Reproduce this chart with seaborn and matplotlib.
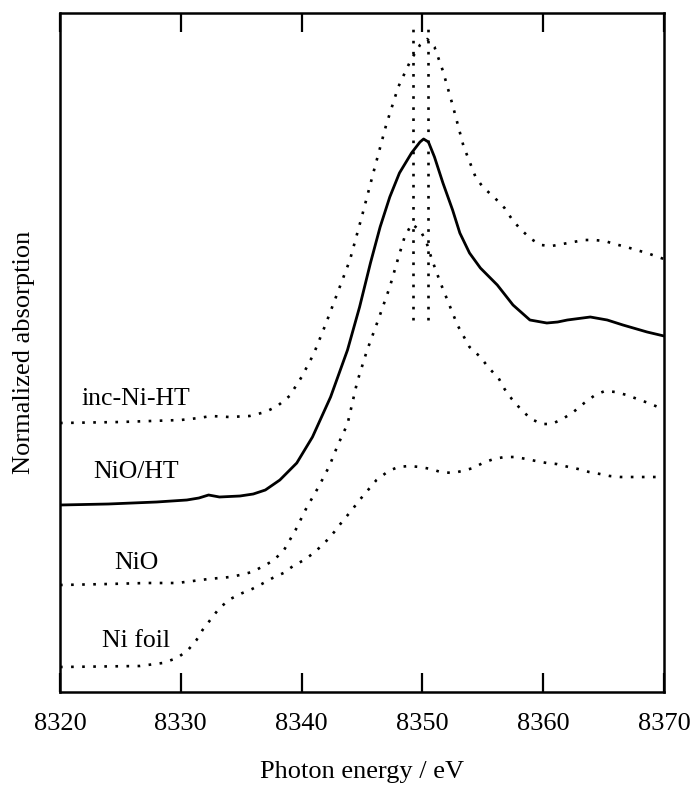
import matplotlib
matplotlib.use("Agg")
import matplotlib.pyplot as plt
import seaborn as sns
import pandas as pd

# Ni K-edge XANES spectra (offset for clarity)
energy_inc = [8320, 8325, 8330, 8331.5, 8332.5, 8334, 8335.7, 8337.0, 8338.0, 8339.0,
              8340.0, 8341.0, 8342.0, 8343.0, 8344.0, 8345.0, 8346.0, 8347.0, 8348.0, 8349.0,
              8349.8, 8350.4, 8351.0, 8351.7, 8352.5, 8353.4, 8354.4, 8355.0, 8356.0, 8356.8,
              8357.4, 8358.1, 8359.0, 8359.8, 8360.7, 8361.6, 8362.5, 8363.4, 8364.2, 8365.1,
              8365.9, 8366.9, 8367.7, 8368.6, 8369.5, 8370]
abs_inc = [2.69, 2.70, 2.72, 2.74, 2.76, 2.75, 2.76, 2.80, 2.86, 2.96,
           3.15, 3.38, 3.68, 4.00, 4.32, 4.76, 5.22, 5.67, 6.05, 6.31,
           6.47, 6.53, 6.45, 6.21, 5.87, 5.46, 5.15, 5.05, 4.94, 4.84,
           4.73, 4.63, 4.53, 4.47, 4.46, 4.48, 4.50, 4.52, 4.52, 4.51,
           4.48, 4.45, 4.42, 4.39, 4.35, 4.33]

energy_nioht = [8320, 8324, 8328, 8330.5, 8331.5, 8332.3, 8333.2, 8334.9, 8336.0, 8337.0,
                8338.2, 8339.6, 8340.9, 8342.4, 8343.8, 8344.8, 8345.7, 8346.5, 8347.3, 8348.1,
                8349.1, 8349.8, 8350.1, 8350.5, 8351.0, 8351.7, 8352.5, 8353.1, 8353.9, 8354.8,
                8356.2, 8357.5, 8358.9, 8360.3, 8361.2, 8362.0, 8363.9, 8365.3, 8366.6, 8368.6,
                8370]
abs_nioht = [1.87, 1.88, 1.90, 1.92, 1.94, 1.97, 1.95, 1.96, 1.98, 2.02,
             2.12, 2.29, 2.55, 2.95, 3.42, 3.85, 4.29, 4.65, 4.95, 5.19,
             5.39, 5.50, 5.53, 5.50, 5.35, 5.09, 4.82, 4.59, 4.39, 4.24,
             4.07, 3.87, 3.72, 3.69, 3.70, 3.72, 3.75, 3.72, 3.67, 3.60,
             3.56]

energy_nio = [8320, 8324, 8327.2, 8329.7, 8332.3, 8334.1, 8334.9, 8335.9, 8336.7, 8337.6,
              8338.5, 8339.5, 8340.4, 8341.4, 8342.3, 8343.0, 8343.8, 8344.6, 8345.4, 8346.4,
              8347.3, 8348.0, 8348.5, 8349.1, 8349.8, 8350.3, 8350.8, 8351.5, 8352.2, 8352.9,
              8353.4, 8353.9, 8354.8, 8355.5, 8356.3, 8356.8, 8357.4, 8358.2, 8359.0, 8359.9,
              8360.7, 8361.6, 8362.5, 8363.4, 8364.3, 8365.1, 8366.0, 8366.9, 8367.8, 8368.7,
              8369.5, 8370]
abs_nio = [1.07, 1.08, 1.09, 1.09, 1.13, 1.15, 1.17, 1.20, 1.25, 1.31,
           1.41, 1.62, 1.84, 2.05, 2.26, 2.47, 2.68, 3.10, 3.41, 3.74,
           4.05, 4.34, 4.54, 4.68, 4.62, 4.51, 4.32, 4.09, 3.88, 3.67,
           3.56, 3.45, 3.35, 3.24, 3.14, 3.03, 2.93, 2.82, 2.73, 2.68,
           2.68, 2.73, 2.80, 2.89, 2.97, 3.01, 3.00, 2.97, 2.93, 2.89,
           2.85, 2.83]

energy_foil = [8320, 8326.6, 8328.5, 8329.7, 8330.6, 8331.3, 8331.8, 8332.5, 8333.2, 8334.1,
               8335.1, 8335.9, 8336.7, 8337.6, 8338.5, 8339.3, 8340.2, 8341.0, 8341.9, 8342.7,
               8343.4, 8344.1, 8344.8, 8345.5, 8346.2, 8347.2, 8348.0, 8348.9, 8349.8, 8350.7,
               8351.5, 8352.5, 8353.3, 8354.2, 8355.0, 8355.9, 8356.8, 8357.7, 8358.6, 8359.4,
               8360.3, 8361.1, 8362.1, 8362.9, 8363.8, 8364.7, 8365.5, 8366.4, 8367.4, 8368.2,
               8369.1, 8370]
abs_foil = [0.25, 0.26, 0.29, 0.34, 0.42, 0.52, 0.62, 0.73, 0.84, 0.93,
            0.99, 1.03, 1.08, 1.14, 1.19, 1.26, 1.32, 1.39, 1.49, 1.60,
            1.71, 1.81, 1.92, 2.02, 2.12, 2.21, 2.25, 2.26, 2.25, 2.23,
            2.20, 2.19, 2.21, 2.24, 2.29, 2.33, 2.35, 2.35, 2.33, 2.31,
            2.29, 2.28, 2.25, 2.23, 2.20, 2.18, 2.16, 2.15, 2.15, 2.15,
            2.15, 2.15]

# white-line reference markers
marker_energy = [8349.2, 8350.5]
marker_range = [3.72, 6.70]

sample_names = ["inc-Ni-HT", "NiO/HT", "NiO", "Ni foil"]
label_pos_y = [2.87, 2.14, 1.23, 0.45]
label_pos_x = 8326.3

xticks = [8320, 8330, 8340, 8350, 8360, 8370]

sns.set_theme(style="ticks")
plt.rcParams["font.family"] = ["Liberation Serif", "DejaVu Serif"]

fig = plt.figure(figsize=(6.95, 7.87), dpi=100)
ax = fig.add_axes([60 / 695, 1 - 692 / 787, 604 / 695, 679 / 787])

frames = {
    "inc-Ni-HT": (energy_inc, abs_inc),
    "NiO/HT": (energy_nioht, abs_nioht),
    "NiO": (energy_nio, abs_nio),
    "Ni foil": (energy_foil, abs_foil),
}
dotted = (0, (1, 3.2))
for name in sample_names:
    e, a = frames[name]
    df = pd.DataFrame({"energy": e, "absorption": a})
    if name == "NiO/HT":
        sns.lineplot(data=df, x="energy", y="absorption", ax=ax, color="black",
                     linewidth=2.0, linestyle="-", estimator=None,
                     solid_joinstyle="round", solid_capstyle="round")
    else:
        sns.lineplot(data=df, x="energy", y="absorption", ax=ax, color="black",
                     linewidth=1.9, linestyle=dotted, estimator=None)

for xm in marker_energy:
    mdf = pd.DataFrame({"energy": [xm, xm], "absorption": marker_range})
    sns.lineplot(data=mdf, x="energy", y="absorption", ax=ax, color="black",
                 linewidth=1.9, linestyle=dotted, estimator=None, sort=False)

for name, yl in zip(sample_names, label_pos_y):
    ax.text(label_pos_x, yl, name, ha="center", va="baseline", fontsize=18.5,
            color="black")

ax.set_xlim(8320, 8370)
ax.set_ylim(0, 6.79)
ax.set_xticks(xticks)
ax.set_xticklabels([str(t) for t in xticks])
ax.set_yticks([])
ax.tick_params(axis="x", direction="in", length=14, width=1.6, top=True,
               bottom=True, labelsize=19, pad=15, colors="black")
for side in ["left", "right", "top", "bottom"]:
    ax.spines[side].set_visible(True)
    ax.spines[side].set_linewidth(1.8)
    ax.spines[side].set_color("black")

ax.set_xlabel("Photon energy / eV", fontsize=19, labelpad=19, color="black")
ax.set_ylabel("Normalized absorption", fontsize=19, labelpad=18, color="black")

fig.savefig("out.png", dpi=100, facecolor="white")
